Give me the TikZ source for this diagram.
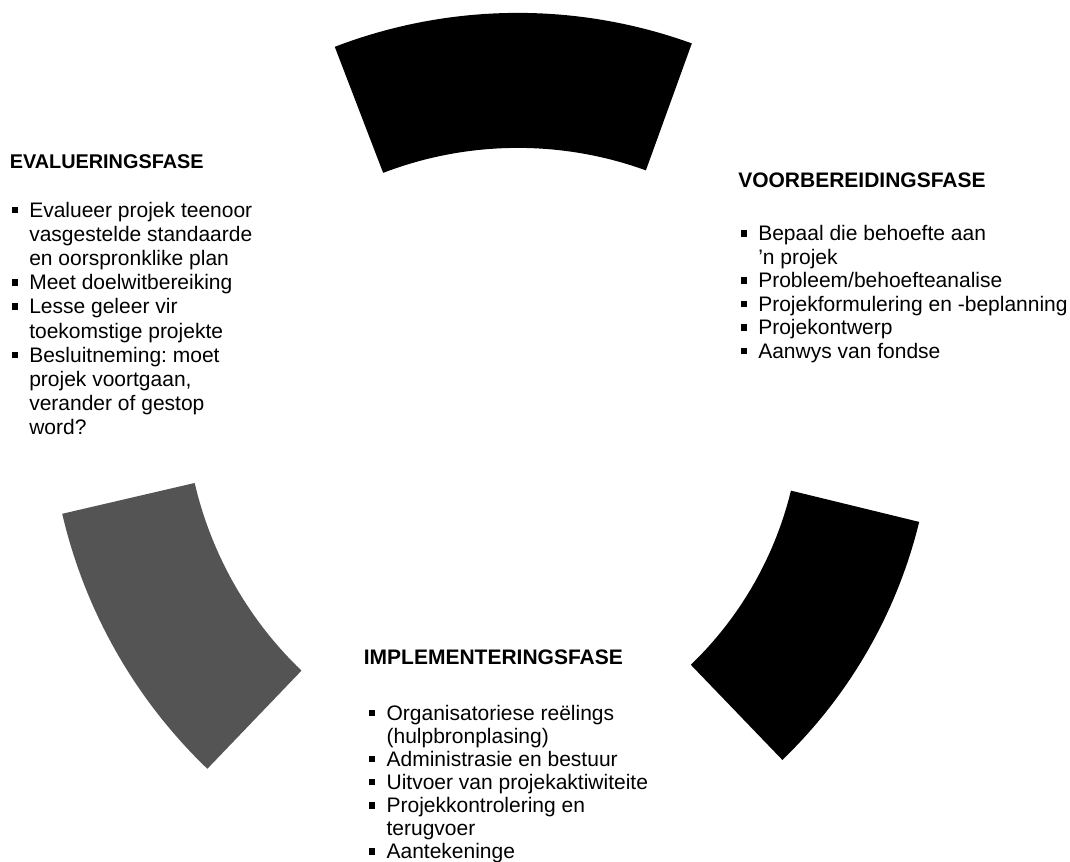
\documentclass[tikz,border=0pt]{standalone}
\usepackage{fontspec}
\setmainfont{Liberation Sans}
\usepackage{xcolor}
\usepackage{tikz}
\usetikzlibrary{positioning}
\definecolor{phasegray}{RGB}{84,84,84}
\newcommand{\listbul}{\makebox[13pt][l]{\rule[0.2em]{0.27em}{0.3em}}}
\newcommand{\listind}{\hspace*{13pt}}
\frenchspacing

\begin{document}
\begin{tikzpicture}[x=0.75pt, y=0.75pt,
    heading/.style={anchor=base west, inner sep=0pt, font=\fontsize{15.75}{18}\selectfont\bfseries},
    phaselist/.style={anchor=north west, inner sep=0pt, align=left},
    sector/.style={fill=black}
]
\useasboundingbox (0,0) rectangle (1070,862);

% top sector
\fill[sector, shift={(517.9,338.1)}] (70.1:511) arc[start angle=70.1, end angle=111, radius=511]
    -- (111:376) arc[start angle=111, end angle=70.1, radius=376] -- cycle;

% bottom right sector
\fill[sector, shift={(441.2,456.6)}] (-46.1:492) arc[start angle=-46.1, end angle=-13.7, radius=492]
    -- (-13.7:360) arc[start angle=-13.7, end angle=-46.1, radius=360] -- cycle;

% bottom left sector
\fill[sector, fill=phasegray, shift={(563.8,464.9)}] (193.1:515) arc[start angle=193.1, end angle=226.2, radius=515]
    -- (226.2:379) arc[start angle=226.2, end angle=193.1, radius=379] -- cycle;

% evaluation phase
\node[heading, font=\fontsize{14.9}{18}\selectfont\bfseries] (evalhead) at (9.5,693.7) {EVALUERINGSFASE};
\node[phaselist, font=\fontsize{15.75}{18.15}\selectfont] (evallist) at (11.7,660.3) {%
\listbul Evalueer projek teenoor\\
\listind vasgestelde standaarde\\
\listind en oorspronklike plan\\
\listbul Meet doelwitbereiking\\
\listbul Lesse geleer vir\\
\listind toekomstige projekte\\
\listbul Besluitneming: moet\\
\listind projek voortgaan,\\
\listind verander of gestop\\
\listind word?};

% preparation phase
\node[heading] (prephead) at (738,674.3) {VOORBEREIDINGSFASE};
\node[phaselist, font=\fontsize{15.75}{17.6}\selectfont] (preplist) at (740.7,636.5) {%
\listbul Bepaal die behoefte aan\\
\listind ’n projek\\
\listbul Probleem/behoefteanalise\\
\listbul Projekformulering en -beplanning\\
\listbul Projekontwerp\\
\listbul Aanwys van fondse};

% implementation phase
\node[heading] (implhead) at (363.6,197) {IMPLEMENTERINGSFASE};
\node[phaselist, font=\fontsize{15.75}{17.3}\selectfont] (impllist) at (369,157) {%
\listbul Organisatoriese reëlings\\
\listind (hulpbronplasing)\\
\listbul Administrasie en bestuur\\
\listbul Uitvoer van projekaktiwiteite\\
\listbul Projekkontrolering en\\
\listind terugvoer\\
\listbul Aantekeninge};
\end{tikzpicture}
\end{document}
